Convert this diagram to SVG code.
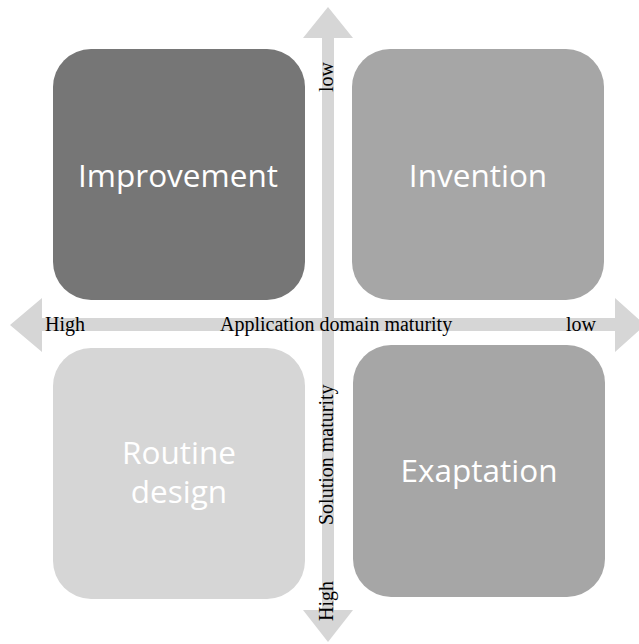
<svg xmlns="http://www.w3.org/2000/svg" width="639" height="644" viewBox="0 0 639 644">
<style>
.box{stroke:none}
.lbl{font-family:"Open Sans","Noto Sans",sans-serif;font-size:31.5px;fill:#ffffff;text-anchor:middle}
.ax{font-family:"Liberation Serif","Times New Roman",serif;font-size:20px;fill:#000000}
.arr{fill:#d6d6d6}
</style>
<rect width="639" height="644" fill="#ffffff"/>
<g id="connectors">
<path class="arr" d="M10,325 L42,298 L42,318 L615,318 L615,298 L645,325 L615,352 L615,331 L42,331 L42,352 Z"/>
<path class="arr" d="M328,7 L353,38 L334,38 L334,610 L353,610 L328,642 L303,610 L322,610 L322,38 L303,38 Z"/>
</g>
<g id="improvement">
<rect class="box" x="53" y="49" width="252" height="251" rx="38" fill="#767676"/>
<text class="lbl" x="178" y="187">Improvement</text>
</g>
<g id="invention">
<rect class="box" x="352" y="49" width="252" height="251" rx="38" fill="#a6a6a6"/>
<text class="lbl" x="478" y="187">Invention</text>
</g>
<g id="routine">
<rect class="box" x="53" y="348" width="252" height="251" rx="38" fill="#d6d6d6"/>
<text class="lbl" x="179" y="464">Routine</text>
<text class="lbl" x="179" y="503">design</text>
</g>
<g id="exaptation">
<rect class="box" x="353" y="345" width="252" height="252" rx="38" fill="#a6a6a6"/>
<text class="lbl" x="479" y="482">Exaptation</text>
</g>
<g id="axis-labels">
<text class="ax" x="45" y="331">High</text>
<text class="ax" x="220" y="331">Application domain maturity</text>
<text class="ax" x="566" y="331">low</text>
<text class="ax" transform="translate(333,92) rotate(-90)">low</text>
<text class="ax" transform="translate(333,525) rotate(-90)">Solution maturity</text>
<text class="ax" transform="translate(333,621) rotate(-90)">High</text>
</g>
</svg>
